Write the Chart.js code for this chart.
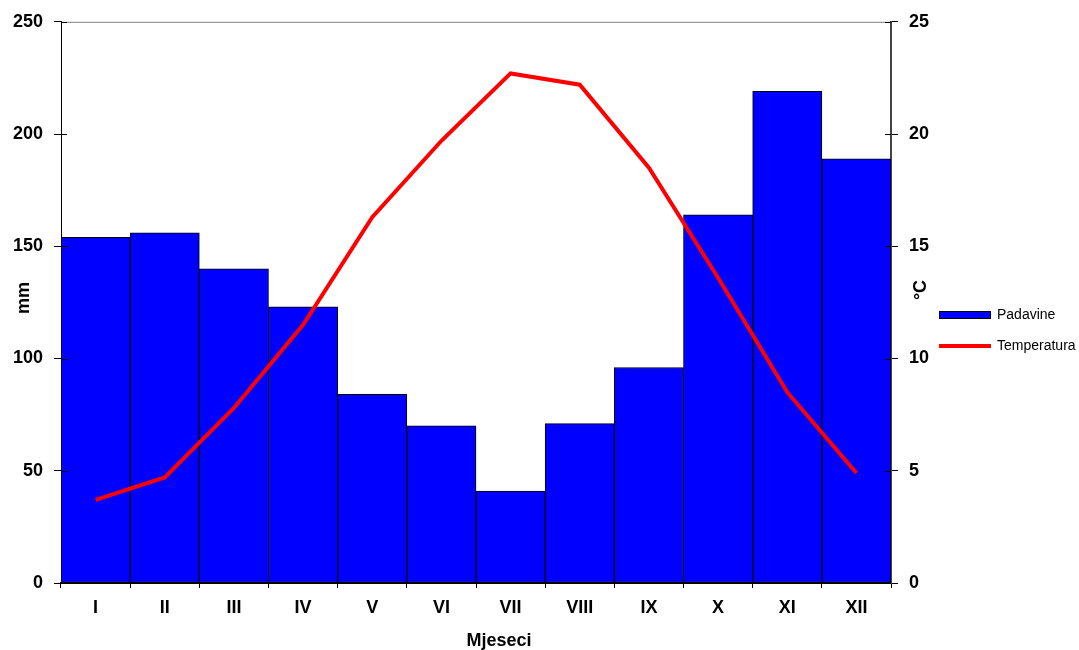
<!DOCTYPE html>
<html>
<head>
<meta charset="utf-8">
<title>Padavine i temperatura</title>
<script src="https://cdn.jsdelivr.net/npm/chart.js@4/dist/chart.umd.min.js"></script>
<style>
    html, body { margin: 0; padding: 0; background: #fff; }
    #wrap { width: 1079px; height: 650px; position: relative; }
</style>
</head>
<body>
<div id="wrap"><canvas id="klimaChart"></canvas></div>
<script>
// Monthly data
const months = ['I', 'II', 'III', 'IV', 'V', 'VI', 'VII', 'VIII', 'IX', 'X', 'XI', 'XII'];
const padavine = [154, 156, 140, 123, 84, 70, 41, 71, 96, 164, 219, 189];        // mm
const temperatura = [3.7, 4.7, 7.8, 11.5, 16.3, 19.7, 22.7, 22.2, 18.5, 13.6, 8.5, 4.9]; // °C
const mmTicks = [0, 50, 100, 150, 200, 250];
const tempTicks = [0, 5, 10, 15, 20, 25];

const FONT = 'Liberation Sans, Arial, sans-serif';
const tickFont = { family: FONT, size: 18, weight: 'bold' };

// Draws the axis titles, the crossing tick marks, the top border and the legend
const extras = {
    id: 'extras',
    afterDraw(chart) {
        const ctx = chart.ctx;
        const area = chart.chartArea;
        const yL = chart.scales.y;
        const yR = chart.scales.y2;

        ctx.save();
        // top border of the plot area
        ctx.strokeStyle = '#808080';
        ctx.lineWidth = 1;
        ctx.beginPath();
        ctx.moveTo(area.left, area.top + 0.5);
        ctx.lineTo(area.right, area.top + 0.5);
        ctx.stroke();

        // inner half of the y tick marks
        ctx.strokeStyle = '#000';
        mmTicks.forEach(v => {
            const y = Math.round(yL.getPixelForValue(v)) + 0.5;
            ctx.beginPath();
            ctx.moveTo(area.left, y);
            ctx.lineTo(area.left + 6, y);
            ctx.stroke();
        });
        tempTicks.forEach(v => {
            const y = Math.round(yR.getPixelForValue(v)) + 0.5;
            ctx.beginPath();
            ctx.moveTo(area.right - 6, y);
            ctx.lineTo(area.right, y);
            ctx.stroke();
        });

        // axis titles
        ctx.fillStyle = '#000';
        ctx.font = 'bold 18px ' + FONT;
        ctx.textAlign = 'center';
        ctx.textBaseline = 'middle';
        ctx.fillText('Mjeseci', 499, 641);

        ctx.save();
        ctx.translate(24, 298);
        ctx.rotate(-Math.PI / 2);
        ctx.fillText('mm', 0, 0);
        ctx.restore();

        ctx.save();
        ctx.translate(921, 290);
        ctx.rotate(-Math.PI / 2);
        ctx.fillText('°C', 0, 0);
        ctx.restore();

        // legend (bars first, then the line)
        const bars = chart.data.datasets[0];
        const line = chart.data.datasets[1];
        ctx.font = '14px ' + FONT;
        ctx.textAlign = 'left';
        ctx.fillStyle = bars.backgroundColor;
        ctx.fillRect(939.5, 311.5, 51, 7);
        ctx.strokeStyle = '#000';
        ctx.lineWidth = 1;
        ctx.strokeRect(939.5, 311.5, 51, 7);
        ctx.fillStyle = '#000';
        ctx.fillText(bars.label, 997, 315);

        ctx.strokeStyle = line.borderColor;
        ctx.lineWidth = 4;
        ctx.beginPath();
        ctx.moveTo(939, 346);
        ctx.lineTo(991, 346);
        ctx.stroke();
        ctx.fillText(line.label, 997, 346);
        ctx.restore();
    }
};

let klimaChart;
function createKlimaChart() {
    const ctx = document.getElementById('klimaChart').getContext('2d');
    klimaChart = new Chart(ctx, {
        type: 'bar',
        data: {
            labels: months,
            datasets: [
                {
                    label: 'Padavine',
                    data: padavine,
                    yAxisID: 'y',
                    backgroundColor: '#0000ff',
                    borderColor: '#000000',
                    borderWidth: 1,
                    borderSkipped: false,
                    barPercentage: 1.0,
                    categoryPercentage: 1.0,
                    order: 1
                },
                {
                    type: 'line',
                    label: 'Temperatura',
                    data: temperatura,
                    yAxisID: 'y2',
                    borderColor: '#ff0000',
                    borderWidth: 4,
                    pointRadius: 0,
                    tension: 0,
                    fill: false,
                    order: 0
                }
            ]
        },
        options: {
            responsive: true,
            maintainAspectRatio: false,
            animation: false,
            layout: { padding: { top: 21, right: 138, left: 0, bottom: 0 } },
            plugins: {
                legend: { display: false },
                tooltip: { enabled: false }
            },
            scales: {
                x: {
                    grid: { offset: true, drawOnChartArea: false, tickLength: 5, color: '#000' },
                    border: { color: '#000', width: 2 },
                    ticks: { color: '#000', padding: 9, font: tickFont },
                    afterFit: s => { s.height = 67; }
                },
                y: {
                    position: 'left',
                    min: 0,
                    max: 250,
                    afterBuildTicks: s => { s.ticks = mmTicks.map(v => ({ value: v })); },
                    grid: { drawOnChartArea: false, tickLength: 7, color: '#000' },
                    border: { color: '#000', width: 1 },
                    ticks: { color: '#000', padding: 11, font: tickFont },
                    afterFit: s => { s.width = 61; }
                },
                y2: {
                    position: 'right',
                    min: 0,
                    max: 25,
                    afterBuildTicks: s => { s.ticks = tempTicks.map(v => ({ value: v })); },
                    grid: { drawOnChartArea: false, tickLength: 7, color: '#000' },
                    border: { color: '#444', width: 2 },
                    ticks: { color: '#000', padding: 11, font: tickFont },
                    afterFit: s => { s.width = 50; }
                }
            }
        },
        plugins: [extras]
    });
}

document.addEventListener('DOMContentLoaded', () => {
    createKlimaChart();
});
</script>
</body>
</html>
